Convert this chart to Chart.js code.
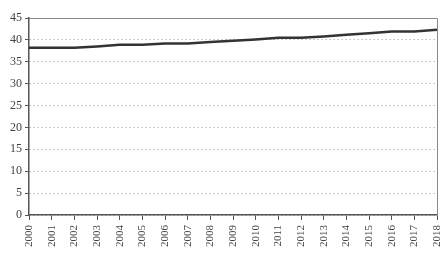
<!DOCTYPE html>
<html>
<head>
<meta charset="utf-8">
<script src="https://cdn.jsdelivr.net/npm/chart.js@4"></script>
<style>
html,body{margin:0;padding:0;background:#fff}
#wrap{width:445px;height:269px}
</style>
</head>
<body>
<div id="wrap"><canvas id="chart"></canvas></div>
<script>
const years = ['2000','2001','2002','2003','2004','2005','2006','2007','2008','2009','2010','2011','2012','2013','2014','2015','2016','2017','2018']
const values = [38.2,38.2,38.2,38.5,38.9,38.9,39.2,39.2,39.5,39.8,40.1,40.5,40.5,40.8,41.2,41.5,41.9,41.9,42.3]
const yTicks = [0,5,10,15,20,25,30,35,40,45]

// top and right frame in lighter gray
const frame = {
    id:'frame',
    afterDraw(chart){
        const a = chart.chartArea, c = chart.ctx
        c.save()
        c.strokeStyle = '#888'
        c.lineWidth = 1
        c.beginPath()
        c.moveTo(a.left, a.top + 0.5)
        c.lineTo(a.right + 0.5, a.top + 0.5)
        c.lineTo(a.right + 0.5, a.bottom)
        c.stroke()
        c.restore()
    }
}

const ctx = document.getElementById('chart').getContext('2d');
const myChart = new Chart(ctx, {
    type: 'line',
    data: {
        labels: years,
        datasets: [{
            data: values,
            borderColor: '#333',
            borderWidth: 2.5,
            pointRadius: 0,
            tension: 0,
            fill: false
        }]
    },
    options: {
        responsive: true,
        maintainAspectRatio: false,
        animation: false,
        layout: {padding: {top: 18, right: 0, left: 0, bottom: 0}},
        plugins: {legend: {display: false}, tooltip: {enabled: false}},
        scales: {
            x: {
                offset: false,
                afterFit: (axis) => { axis.height = 54; axis.paddingRight = 8; axis.paddingLeft = 0 },
                grid: {display: true, drawOnChartArea: false, drawTicks: true, tickLength: 5, color: '#555'},
                border: {color: '#555', width: 1.5},
                ticks: {
                    minRotation: 90, maxRotation: 90, autoSkip: false,
                    color: '#444', padding: 5,
                    font: {family: 'Liberation Serif', size: 11}
                }
            },
            y: {
                min: 0, max: 45,
                afterFit: (axis) => { axis.width = 29 },
                afterBuildTicks: (axis) => { axis.ticks = yTicks.map(v => ({value: v})) },
                grid: {color: '#bbb', lineWidth: 1, tickLength: 4, tickColor: '#555'},
                border: {color: '#555', width: 1.5, dash: [1.5,2.5]},
                ticks: {color: '#444', padding: 3, font: {family: 'Liberation Serif', size: 12}}
            }
        }
    },
    plugins: [frame]
});
</script>
</body>
</html>
